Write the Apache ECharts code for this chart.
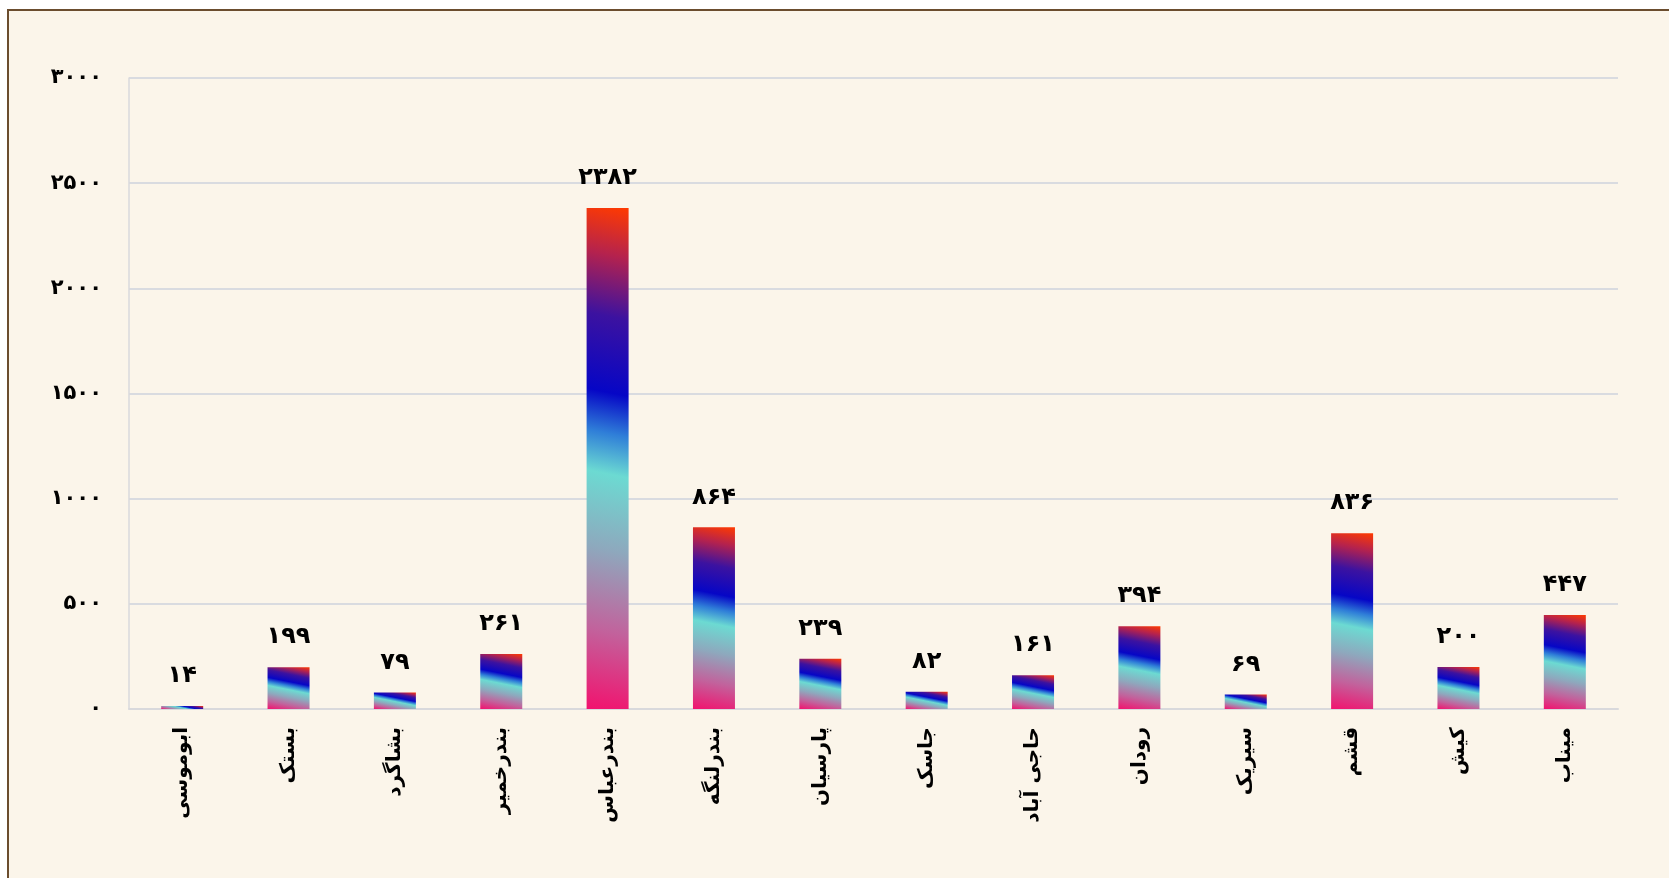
<!DOCTYPE html>
<html lang="fa">
<head>
<meta charset="utf-8">
<title>Hormozgan counties</title>
<script src="https://cdn.jsdelivr.net/npm/echarts@6/dist/echarts.min.js"></script>
<style>
  html, body { margin: 0; padding: 0; background: #ffffff; overflow: hidden; }
  #frame {
    position: absolute; left: 7px; top: 9px; width: 1720px; height: 920px;
    background: #fbf5ea;
    border-left: 2px solid #6b4d2e; border-top: 2px solid #6b4d2e;
  }
  #chart { position: absolute; left: 0; top: 0; width: 1669px; height: 878px; }
</style>
</head>
<body>
<div id="frame"></div>
<div id="chart"></div>
<script>
// County names (x axis)
const counties = [
  'ابوموسی', 'بستک', 'بشاگرد', 'بندرخمیر', 'بندرعباس', 'بندرلنگه', 'پارسیان',
  'جاسک', 'حاجی آباد', 'رودان', 'سیریک', 'قشم', 'کیش', 'میناب'
];
// Values per county
const counts = [14, 199, 79, 261, 2382, 864, 239, 82, 161, 394, 69, 836, 200, 447];
// Value axis ticks
const yMin = 0;
const yMax = 3000;
const yStep = 500;

// Western digits -> Persian digits
const faDigits = '۰۱۲۳۴۵۶۷۸۹';
const toFa = v => String(v).replace(/\d/g, d => faDigits[d]);

const GRID = { left: 129, right: 51, top: 78, bottom: 169 };
const BAR_W = 42;
const plotH = 878 - GRID.top - GRID.bottom;
const FONT = '"DejaVu Sans", sans-serif';

// Bottom-left (pink) to top-right (orange-red) colour stops
const stops = [
  { offset: 0.00, color: '#f2126e' },
  { offset: 0.16, color: '#c2629c' },
  { offset: 0.32, color: '#8ea8bd' },
  { offset: 0.47, color: '#6cdad2' },
  { offset: 0.55, color: '#2f7ed8' },
  { offset: 0.63, color: '#0606c6' },
  { offset: 0.78, color: '#3c12a0' },
  { offset: 0.90, color: '#b4224e' },
  { offset: 1.00, color: '#ff3a00' }
];

// Gradient tilted by a fixed angle in screen space; it starts at the
// bottom-left corner and ends where the top-right corner projects onto
// the gradient direction, so every bar shows the full colour range.
const TILT = Math.atan(0.2);
const sT = Math.sin(TILT), cT = Math.cos(TILT);
function barFill(params) {
  const w = BAR_W;
  const h = Math.max(1, params.value / (yMax - yMin) * plotH);
  const span = w * sT + h * cT;
  const x2 = span * sT / w;
  const y2 = 1 - span * cT / h;
  return new echarts.graphic.LinearGradient(0, 1, x2, y2, stops);
}

const chart = echarts.init(document.getElementById('chart'), null, { renderer: 'canvas' });
chart.setOption({
  backgroundColor: 'transparent',
  animation: false,
  grid: GRID,
  xAxis: {
    type: 'category',
    data: counties,
    axisLine: { show: true, lineStyle: { color: '#d9d9dc', width: 2 } },
    axisTick: { show: false },
    axisLabel: {
      rotate: 90,
      margin: 18,
      interval: 0,
      color: '#000',
      fontFamily: FONT,
      fontWeight: 'bold',
      fontSize: 20
    }
  },
  yAxis: {
    type: 'value',
    min: yMin,
    max: yMax,
    interval: yStep,
    axisLine: { show: true, lineStyle: { color: '#d9d9dc', width: 1.5 } },
    axisTick: { show: false },
    splitLine: { show: true, lineStyle: { color: '#d9dbe0', width: 2 } },
    axisLabel: {
      margin: 27,
      color: '#000',
      fontFamily: FONT,
      fontWeight: 'bold',
      fontSize: 21,
      formatter: v => toFa(v)
    }
  },
  series: [{
    type: 'bar',
    data: counts,
    barWidth: BAR_W,
    itemStyle: { color: barFill },
    label: {
      show: true,
      position: 'top',
      distance: 18,
      color: '#000',
      fontFamily: FONT,
      fontWeight: 'bold',
      fontSize: 24,
      formatter: p => toFa(p.value)
    }
  }]
});
</script>
</body>
</html>
